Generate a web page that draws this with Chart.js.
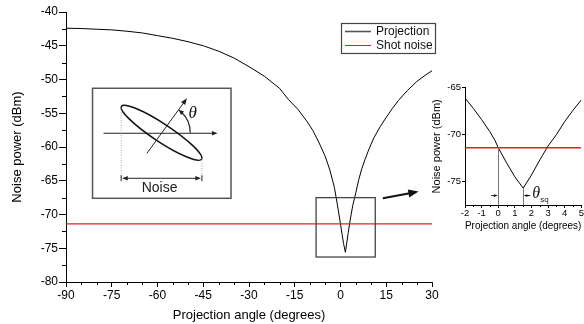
<!DOCTYPE html>
<html><head><meta charset="utf-8">
<script src="https://cdn.jsdelivr.net/npm/chart.js@4"></script>
<style>
html,body{margin:0;padding:0;background:#fff;}
#wrap{position:relative;width:584px;height:324px;overflow:hidden;}
#main{position:absolute;left:0;top:0;}
#inset{position:absolute;left:428px;top:60px;}
</style></head><body>
<div id="wrap">
<canvas id="main" width="584" height="324"></canvas>
<canvas id="inset" width="156" height="175"></canvas>
</div>
<script>
// ---------- DATA ----------
const seriesLabels = ['Projection', 'Shot noise'];
const mainAngles = [-90,-85,-80,-75,-70,-65,-60,-55,-50,-45,-40,-35,-30,-25,-20,-17,-14,-11,-9,-7,-5,-3.5,-2,-1,0,0.5,1,1.6,2,2.5,3,3.5,4,5,6,7,8,9,10,11,13,15,17,19,22,25,28,30];
const projectionDbm = [-42.4,-42.45,-42.55,-42.65,-42.85,-43.1,-43.5,-43.9,-44.4,-45.0,-45.8,-46.8,-48.1,-49.5,-51.3,-53.0,-54.4,-56.2,-57.6,-59.4,-61.4,-63.4,-66.0,-68.6,-71.4,-72.9,-74.3,-75.6,-74.4,-72.8,-71.3,-70.0,-68.7,-66.8,-64.8,-63.2,-61.9,-60.7,-59.6,-58.6,-57.0,-55.6,-54.3,-53.1,-51.6,-50.3,-49.3,-48.7];
const shotNoiseAngles = [-90, 30];
const shotNoiseDbm = [-71.4, -71.4];
const mainXTicks = [-90,-75,-60,-45,-30,-15,0,15,30];
const mainYTicks = [-80,-75,-70,-65,-60,-55,-50,-45,-40];

const insetAngles = [-2,-1.5,-1,-0.5,-0.2,0,0.5,1,1.5,2,2.5,3,3.5,4,4.5,5];
const insetDbm = [-66.1,-67.2,-68.4,-69.7,-70.6,-71.4,-73.0,-74.5,-75.7,-74.3,-72.7,-71.2,-70.0,-68.6,-67.4,-66.3];
const insetShotAngles = [-2, 5];
const insetShotDbm = [-71.4, -71.4];
const insetXTicks = [-2,-1,0,1,2,3,4,5];
const insetYTicks = [-75,-70,-65];
const sqMarkAngles = [0, 1.5];
const sqMarkDbm = [-71.4, -75.7];

// ---------- helpers ----------
const pts = (xs, ys) => xs.map((x, i) => ({x: x, y: ys[i]}));
const RED = '#e41e1e';
const FONT = "'Liberation Sans', Arial, Helvetica, sans-serif";
Chart.defaults.font.family = FONT;
Chart.defaults.color = '#000';

function arrow(ctx, x1, y1, x2, y2, head, width, color) {
  const ang = Math.atan2(y2 - y1, x2 - x1);
  ctx.save();
  ctx.strokeStyle = color; ctx.fillStyle = color; ctx.lineWidth = width;
  ctx.beginPath(); ctx.moveTo(x1, y1);
  ctx.lineTo(x2 - Math.cos(ang) * head * 0.7, y2 - Math.sin(ang) * head * 0.7); ctx.stroke();
  ctx.beginPath(); ctx.moveTo(x2, y2);
  ctx.lineTo(x2 - head * Math.cos(ang - 0.38), y2 - head * Math.sin(ang - 0.38));
  ctx.lineTo(x2 - head * Math.cos(ang + 0.38), y2 - head * Math.sin(ang + 0.38));
  ctx.closePath(); ctx.fill();
  ctx.restore();
}
function minorTicks(ctx, scale, values, len, dir) {
  ctx.save(); ctx.strokeStyle = '#000'; ctx.lineWidth = 1;
  ctx.beginPath();
  values.forEach(v => {
    const p = Math.round(scale.getPixelForValue(v)) + 0.5;
    if (scale.isHorizontal()) { ctx.moveTo(p, scale.top); ctx.lineTo(p, scale.top + len * dir); }
    else { ctx.moveTo(scale.right, p); ctx.lineTo(scale.right - len * dir, p); }
  });
  ctx.stroke(); ctx.restore();
}
function range(a, b, s) { const r = []; for (let v = a; v <= b + 1e-9; v += s) r.push(+v.toFixed(3)); return r; }

// ---------- main chart annotations ----------
const zoomBox = {x1: -8, x2: 11.4, y1: -67.5, y2: -76.3};
const pointer = {x1: 13.9, y1: -67.6, x2: 25.6, y2: -66.6};
const diagramBox = {x1: -81.3, x2: -35.9, y1: -51.3, y2: -67.6};

const mainPlugin = {
  id: 'mainDecor',
  afterDraw(chart) {
    const ctx = chart.ctx, xs = chart.scales.x, ys = chart.scales.y, ca = chart.chartArea;
    // minor ticks
    minorTicks(ctx, xs, range(-90, 30, 5).filter(v => !mainXTicks.includes(v)), 3, 1);
    minorTicks(ctx, ys, range(-80, -40, 2.5).filter(v => !mainYTicks.includes(v)), 4, 1);

    // zoom rectangle
    ctx.save();
    ctx.strokeStyle = '#444'; ctx.lineWidth = 1.3;
    const rx1 = xs.getPixelForValue(zoomBox.x1), rx2 = xs.getPixelForValue(zoomBox.x2);
    const ry1 = ys.getPixelForValue(zoomBox.y1), ry2 = ys.getPixelForValue(zoomBox.y2);
    ctx.strokeRect(rx1, ry1, rx2 - rx1, ry2 - ry1);
    ctx.restore();
    // pointer arrow
    arrow(ctx, xs.getPixelForValue(pointer.x1), ys.getPixelForValue(pointer.y1),
          xs.getPixelForValue(pointer.x2), ys.getPixelForValue(pointer.y2), 11, 2, '#111');

    // legend
    const lx = ca.right - 91, ly = ca.top + 11;
    ctx.save();
    ctx.fillStyle = '#fff'; ctx.fillRect(lx, ly, 94, 30);
    ctx.strokeStyle = '#444'; ctx.lineWidth = 1.2; ctx.strokeRect(lx + 0.5, ly + 0.5, 94, 30);
    ctx.lineWidth = 1.6; ctx.strokeStyle = '#555';
    ctx.beginPath(); ctx.moveTo(lx + 4, ly + 8.5); ctx.lineTo(lx + 30, ly + 8.5); ctx.stroke();
    ctx.lineWidth = 1; ctx.strokeStyle = RED;
    ctx.beginPath(); ctx.moveTo(lx + 4, ly + 22.5); ctx.lineTo(lx + 30, ly + 22.5); ctx.stroke();
    ctx.fillStyle = '#111'; ctx.font = '12px ' + FONT; ctx.textBaseline = 'middle'; ctx.textAlign = 'left';
    ctx.fillText(seriesLabels[0], lx + 35, ly + 8.5);
    ctx.fillText(seriesLabels[1], lx + 35, ly + 22.5);
    ctx.restore();

    // inset diagram
    const bx = xs.getPixelForValue(diagramBox.x1), by = ys.getPixelForValue(diagramBox.y1);
    const bw = xs.getPixelForValue(diagramBox.x2) - bx, bh = ys.getPixelForValue(diagramBox.y2) - by;
    ctx.save();
    ctx.fillStyle = '#fff'; ctx.fillRect(bx, by, bw, bh);
    ctx.strokeStyle = '#555'; ctx.lineWidth = 1.5; ctx.strokeRect(bx, by, bw, bh);
    const cx = bx + 69, cy = by + 44.5, a = 48, b = 9, phi = 33.4 * Math.PI / 180;
    // horizontal axis
    arrow(ctx, bx + 11, by + 45, bx + 125, by + 45, 6, 1, '#222');
    // ellipse
    ctx.strokeStyle = '#111'; ctx.lineWidth = 1.5;
    ctx.beginPath(); ctx.ellipse(cx, cy, a, b, phi, 0, Math.PI * 2); ctx.stroke();
    // projection arrow
    arrow(ctx, bx + 54.4, by + 65, bx + 94.4, by + 10, 7, 1, '#222');
    // theta arc
    const r = 28.7, th = 54 * Math.PI / 180;
    ctx.strokeStyle = '#222'; ctx.lineWidth = 1.2;
    ctx.beginPath(); ctx.arc(cx, cy, r, 0, -th + 0.12, true); ctx.stroke();
    const ex = cx + r * Math.cos(-th), ey = cy + r * Math.sin(-th);
    const sx = cx + r * Math.cos(-th + 0.2), sy = cy + r * Math.sin(-th + 0.2);
    arrow(ctx, sx, sy, ex, ey, 6, 1, '#222');
    ctx.fillStyle = '#111'; ctx.font = 'italic 17px "Liberation Serif", "DejaVu Serif", serif';
    ctx.textAlign = 'left'; ctx.textBaseline = 'middle';
    ctx.fillText('\u03b8', bx + 96, by + 25);
    // extreme x points of ellipse
    const t0 = Math.atan2(-b * Math.sin(phi), a * Math.cos(phi));
    const P = t => [cx + a * Math.cos(t) * Math.cos(phi) - b * Math.sin(t) * Math.sin(phi),
                    cy + a * Math.cos(t) * Math.sin(phi) + b * Math.sin(t) * Math.cos(phi)];
    let p1 = P(t0), p2 = P(t0 + Math.PI);
    const left = p1[0] < p2[0] ? p1 : p2, right = p1[0] < p2[0] ? p2 : p1;
    const ny = by + 90;
    ctx.strokeStyle = '#aaa'; ctx.lineWidth = 1; ctx.setLineDash([1, 1.5]);
    ctx.beginPath(); ctx.moveTo(left[0], left[1]); ctx.lineTo(left[0], ny);
    ctx.moveTo(right[0], right[1]); ctx.lineTo(right[0], ny); ctx.stroke();
    ctx.setLineDash([]);
    // noise double arrow
    arrow(ctx, (left[0] + right[0]) / 2, ny, left[0] + 1, ny, 6, 1, '#222');
    arrow(ctx, (left[0] + right[0]) / 2, ny, right[0] - 1, ny, 6, 1, '#222');
    ctx.strokeStyle = '#222';
    ctx.beginPath(); ctx.moveTo(left[0], ny - 3); ctx.lineTo(left[0], ny + 3);
    ctx.moveTo(right[0], ny - 3); ctx.lineTo(right[0], ny + 3); ctx.stroke();
    ctx.fillStyle = '#222'; ctx.font = '14px ' + FONT; ctx.textAlign = 'center';
    ctx.fillText('Noise', bx + 67, by + 100);
    ctx.restore();
  }
};

new Chart(document.getElementById('main'), {
  type: 'line',
  data: {
    datasets: [
      {label: seriesLabels[1], data: pts(shotNoiseAngles, shotNoiseDbm), borderColor: RED, borderWidth: 1.2, pointRadius: 0, tension: 0},
      {label: seriesLabels[0], data: pts(mainAngles, projectionDbm), borderColor: '#000', borderWidth: 1, pointRadius: 0, tension: 0}
    ]
  },
  options: {
    responsive: false, animation: false, devicePixelRatio: 1,
    layout: {padding: {left: 0, top: 12, right: 152, bottom: 0}},
    plugins: {legend: {display: false}, tooltip: {enabled: false}},
    scales: {
      x: {
        type: 'linear', min: -90, max: 30,
        afterBuildTicks: s => { s.ticks = mainXTicks.map(v => ({value: v})); },
        afterFit: s => { s.height = 42; },
        grid: {drawOnChartArea: false, tickLength: 5, color: '#000', tickColor: '#000'},
        border: {color: '#000', width: 1},
        ticks: {font: {size: 12}, color: '#000', padding: 1, maxRotation: 0, autoSkip: false},
        title: {display: true, text: 'Projection angle (degrees)', font: {size: 13}, color: '#000', padding: {top: 0, bottom: 1}}
      },
      y: {
        type: 'linear', min: -80, max: -40,
        afterBuildTicks: s => { s.ticks = mainYTicks.map(v => ({value: v})); },
        afterFit: s => { s.width = 66; },
        grid: {drawOnChartArea: false, tickLength: 7, color: '#000', tickColor: '#000'},
        border: {color: '#000', width: 1},
        ticks: {font: {size: 12}, color: '#000', padding: 1},
        title: {display: true, text: 'Noise power (dBm)', font: {size: 13}, color: '#000', padding: {top: 10, bottom: 0}}
      }
    }
  },
  plugins: [mainPlugin]
});

// ---------- inset chart ----------
const insetPlugin = {
  id: 'insetDecor',
  afterDraw(chart) {
    const ctx = chart.ctx, xs = chart.scales.x, ys = chart.scales.y;
    minorTicks(ctx, xs, range(-2, 5, 0.5).filter(v => !insetXTicks.includes(v)), 2, 1);
    ctx.save();
    ctx.strokeStyle = '#777'; ctx.lineWidth = 1;
    ctx.beginPath();
    sqMarkAngles.forEach((a, i) => {
      const px = Math.round(xs.getPixelForValue(a)) + 0.5;
      ctx.moveTo(px, ys.getPixelForValue(sqMarkDbm[i])); ctx.lineTo(px, ys.bottom);
    });
    ctx.stroke();
    const ay = ys.getPixelForValue(-76.5);
    const p0 = xs.getPixelForValue(sqMarkAngles[0]), p1 = xs.getPixelForValue(sqMarkAngles[1]);
    arrow(ctx, p0 - 7, ay, p0 - 0.5, ay, 4, 1, '#111');
    arrow(ctx, p1 + 7, ay, p1 + 0.5, ay, 4, 1, '#111');
    ctx.fillStyle = '#111'; ctx.textBaseline = 'middle'; ctx.textAlign = 'left';
    ctx.font = 'italic 16px "Liberation Serif", "DejaVu Serif", serif';
    ctx.fillText('\u03b8', p1 + 9, ay - 2);
    ctx.font = '8px ' + FONT;
    ctx.fillText('sq', p1 + 17, ay + 4);
    ctx.restore();
  }
};

new Chart(document.getElementById('inset'), {
  type: 'line',
  data: {
    datasets: [
      {label: seriesLabels[1], data: pts(insetShotAngles, insetShotDbm), borderColor: RED, borderWidth: 1.3, pointRadius: 0, tension: 0},
      {label: seriesLabels[0], data: pts(insetAngles, insetDbm), borderColor: '#000', borderWidth: 1, pointRadius: 0, tension: 0}
    ]
  },
  options: {
    responsive: false, animation: false, devicePixelRatio: 1,
    layout: {padding: {left: 0, top: 27.7, right: 2.3, bottom: 0}},
    plugins: {legend: {display: false}, tooltip: {enabled: false}},
    scales: {
      x: {
        type: 'linear', min: -2, max: 5,
        afterBuildTicks: s => { s.ticks = insetXTicks.map(v => ({value: v})); },
        afterFit: s => { s.height = 30; },
        grid: {drawOnChartArea: false, tickLength: 3, color: '#000', tickColor: '#000'},
        border: {color: '#000', width: 1},
        ticks: {font: {size: 9.5}, color: '#000', padding: 0, maxRotation: 0, autoSkip: false},
        title: {display: true, text: 'Projection angle (degrees)', font: {size: 10}, color: '#000', padding: {top: 0, bottom: 2.3}}
      },
      y: {
        type: 'linear', min: -77.5, max: -65,
        afterBuildTicks: s => { s.ticks = insetYTicks.map(v => ({value: v})); },
        afterFit: s => { s.width = 37; },
        grid: {drawOnChartArea: false, tickLength: 3, color: '#000', tickColor: '#000'},
        border: {color: '#000', width: 1},
        ticks: {font: {size: 9.5}, color: '#000', padding: 1},
        title: {display: true, text: 'Noise power (dBm)', font: {size: 11}, color: '#000', padding: {top: 2.4, bottom: 0}}
      }
    }
  },
  plugins: [insetPlugin]
});
</script>
</body></html>
